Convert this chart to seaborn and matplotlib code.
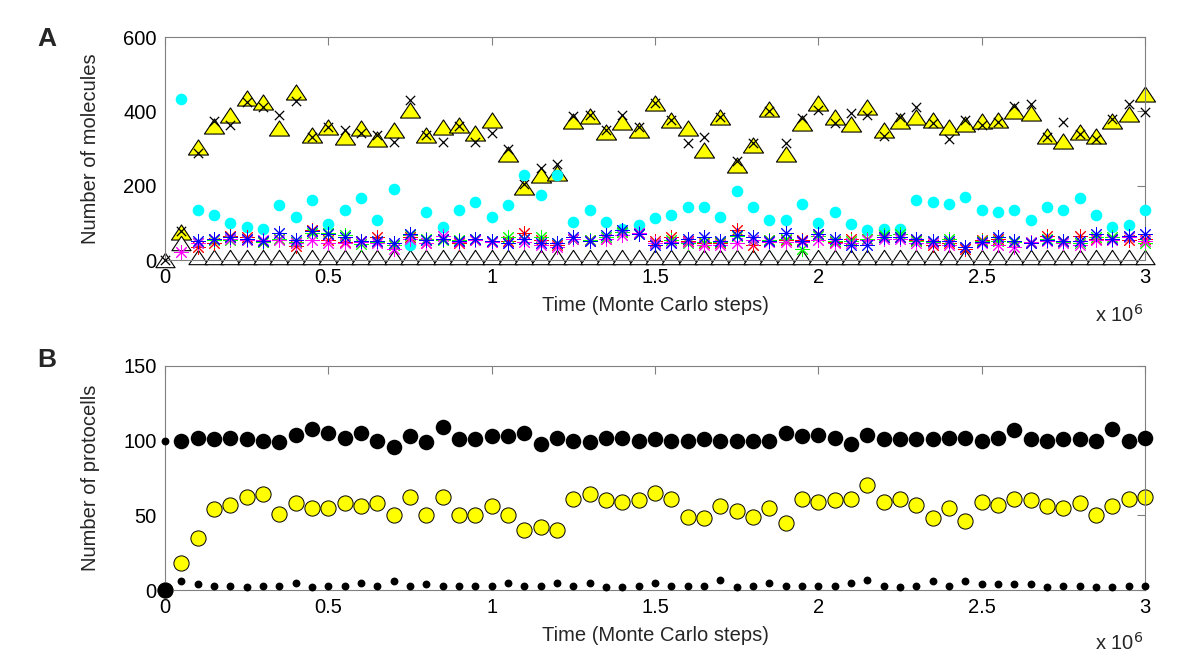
import numpy as np
import pandas as pd
import seaborn as sns
import matplotlib.pyplot as plt
from matplotlib.path import Path

# time, in units of 10^6 Monte Carlo steps
time = [0.00, 0.05, 0.10, 0.15, 0.20, 0.25, 0.30, 0.35, 0.40, 0.45,
        0.50, 0.55, 0.60, 0.65, 0.70, 0.75, 0.80, 0.85, 0.90, 0.95,
        1.00, 1.05, 1.10, 1.15, 1.20, 1.25, 1.30, 1.35, 1.40, 1.45,
        1.50, 1.55, 1.60, 1.65, 1.70, 1.75, 1.80, 1.85, 1.90, 1.95,
        2.00, 2.05, 2.10, 2.15, 2.20, 2.25, 2.30, 2.35, 2.40, 2.45,
        2.50, 2.55, 2.60, 2.65, 2.70, 2.75, 2.80, 2.85, 2.90, 2.95,
        3.00]

nan = np.nan

# panel A: number of molecules
mol_yellow = [nan, 76, 305, 360, 390, 435, 426, 354, 453, 336,
              359, 332, 356, 327, 350, 404, 336, 359, 363, 343,
              378, 285, 196, 229, 235, 375, 387, 345, 372, 351,
              423, 378, 356, 296, 384, 256, 309, 406, 285, 370,
              423, 384, 365, 411, 351, 375, 384, 378, 359, 365,
              375, 378, 402, 396, 334, 320, 345, 334, 375, 393,
              447]
mol_black = [0, 77, 287, 375, 363, 426, 413, 390, 429, 332,
             359, 350, 343, 336, 318, 430, 336, 318, 361, 318,
             341, 300, 206, 249, 258, 387, 390, 351, 390, 359,
             423, 378, 314, 332, 384, 267, 314, 402, 314, 381,
             404, 368, 395, 390, 334, 384, 413, 368, 327, 378,
             363, 372, 414, 421, 332, 372, 338, 327, 380, 420,
             399]
mol_cyan = [nan, 432, 135, 121, 99, 90, 85, 148, 117, 161,
            96, 135, 166, 108, 192, 40, 130, 90, 135, 157,
            117, 148, 228, 175, 228, 103, 135, 103, 85, 94,
            112, 121, 144, 144, 117, 187, 144, 108, 108, 152,
            99, 130, 96, 81, 85, 85, 161, 157, 152, 170,
            135, 130, 135, 108, 144, 135, 166, 121, 90, 94,
            135]
mol_blue = [nan, nan, 52, 56, 63, 58, 52, 72, 54, 78,
            70, 61, 52, 52, 45, 70, 54, 56, 52, 56,
            51, 47, 56, 47, 47, 61, 52, 67, 81, 70,
            40, 45, 56, 63, 52, 67, 61, 52, 74, 52,
            70, 56, 40, 40, 63, 63, 56, 52, 52, 36,
            49, 61, 52, 45, 54, 52, 52, 70, 58, 65,
            70]
mol_red = [nan, nan, 34, 45, 65, 63, 49, 58, 38, 81,
           54, 49, 52, 63, 40, 63, 45, 58, 45, 54,
           48, 52, 74, 54, 40, 58, 54, 56, 76, 74,
           52, 63, 52, 45, 45, 81, 40, 54, 54, 54,
           70, 49, 58, 56, 63, 63, 54, 40, 45, 31,
           54, 56, 49, 45, 65, 52, 65, 58, 56, 54,
           58]
mol_green = [nan, nan, 45, 54, 54, 54, 49, 56, 49, 72,
             72, 67, 43, 49, 40, 67, 58, 54, 54, 58,
             52, 63, 58, 63, 45, 58, 54, 63, 76, 70,
             47, 54, 45, 49, 49, 65, 54, 54, 58, 31,
             65, 52, 52, 58, 67, 70, 52, 49, 58, 36,
             52, 52, 49, 49, 56, 49, 45, 63, 61, 63,
             47]
mol_magenta = [nan, 22, 45, 58, 58, 54, 54, 54, 45, 54,
               45, 45, 49, 45, 31, 58, 45, 65, 49, 54,
               48, 45, 49, 40, 36, 56, 52, 58, 67, 74,
               47, 49, 49, 40, 40, 45, 54, 49, 49, 49,
               54, 45, 45, 54, 58, 58, 45, 45, 40, 36,
               45, 40, 34, 49, 52, 45, 40, 54, 54, 61,
               52]
mol_white = [0, 47, 8, 8, 8, 8, 8, 8, 8, 8,
             8, 8, 8, 8, 8, 8, 8, 8, 8, 8,
             8, 8, 8, 8, 8, 8, 8, 8, 8, 8,
             8, 8, 8, 8, 8, 8, 8, 8, 8, 8,
             8, 8, 8, 8, 8, 8, 8, 8, 8, 8,
             8, 8, 8, 8, 8, 8, 8, 8, 8, 8,
             8]

# panel B: number of protocells
cells_big = [0, 100, 102, 101, 102, 101, 100, 99, 104, 108,
             105, 102, 105, 100, 96, 103, 99, 109, 101, 101,
             103, 103, 105, 98, 102, 100, 99, 102, 102, 100,
             101, 100, 100, 101, 100, 100, 100, 100, 105, 103,
             104, 102, 98, 104, 101, 101, 101, 101, 102, 102,
             100, 102, 107, 101, 100, 101, 101, 100, 108, 100,
             102]
cells_yellow = [0, 18, 35, 54, 57, 62, 64, 51, 58, 55,
                55, 58, 56, 58, 50, 62, 50, 62, 50, 50,
                56, 50, 40, 42, 40, 61, 64, 60, 59, 60,
                65, 61, 49, 48, 56, 53, 49, 55, 45, 61,
                59, 60, 61, 70, 59, 61, 57, 48, 55, 46,
                59, 57, 61, 60, 56, 55, 58, 50, 56, 61,
                62]
cells_small = [100, 6, 4, 3, 3, 2, 3, 3, 5, 2,
               3, 3, 5, 3, 6, 3, 4, 3, 3, 3,
               3, 5, 3, 3, 5, 3, 5, 2, 2, 3,
               5, 3, 3, 3, 7, 2, 3, 5, 3, 3,
               3, 3, 5, 7, 3, 2, 3, 6, 3, 6,
               4, 4, 4, 4, 2, 3, 3, 2, 2, 3,
               3]

df_a = pd.DataFrame({"time": time, "yellow": mol_yellow, "black": mol_black,
                     "cyan": mol_cyan, "blue": mol_blue, "red": mol_red,
                     "green": mol_green, "magenta": mol_magenta, "white": mol_white})
df_b = pd.DataFrame({"time": time, "big": cells_big, "yellow": cells_yellow,
                     "small": cells_small})

sns.set_style("white")
plt.rcParams['font.family'] = ['Liberation Sans', 'DejaVu Sans']

# flat matlab-like triangle, closed path
tri = Path([(-1, -0.75), (1, -0.75), (0, 0.75), (-1, -0.75)],
           [Path.MOVETO, Path.LINETO, Path.LINETO, Path.CLOSEPOLY])
star = (8, 2, 0)
frame = "#808080"

fig = plt.figure(figsize=(12, 6.67), dpi=100)
ax1 = fig.add_axes([0.1375, 0.610, 0.8167, 0.3345])
ax2 = fig.add_axes([0.1375, 0.1154, 0.8167, 0.3359])

# panel A
sns.scatterplot(data=df_a, x="time", y="yellow", marker=tri, s=210, color="#ffff00",
                edgecolor="black", linewidth=0.8, clip_on=False, ax=ax1, zorder=2)
sns.scatterplot(data=df_a, x="time", y="white", marker=tri, s=190, color="white",
                edgecolor="black", linewidth=0.8, clip_on=False, ax=ax1, zorder=2)
sns.scatterplot(data=df_a, x="time", y="black", marker="x", s=45, color="black",
                linewidth=0.9, clip_on=False, ax=ax1, zorder=3)
sns.scatterplot(data=df_a, x="time", y="cyan", marker="o", s=70, color="#00ffff",
                linewidth=0, clip_on=False, ax=ax1, zorder=3)
for col, c in [("red", "#ff0000"), ("green", "#00ff00"), ("magenta", "#ff00ff"),
               ("blue", "#0000ff")]:
    sns.scatterplot(data=df_a, x="time", y=col, marker=star, s=95, color=c,
                    linewidth=0.7, clip_on=False, ax=ax1, zorder=3)

# panel B
sns.scatterplot(data=df_b, x="time", y="yellow", marker="o", s=120, color="#ffff00",
                edgecolor="black", linewidth=0.7, clip_on=False, ax=ax2, zorder=2)
sns.scatterplot(data=df_b, x="time", y="big", marker="o", s=125, color="black",
                linewidth=0, clip_on=False, ax=ax2, zorder=3)
sns.scatterplot(data=df_b, x="time", y="small", marker="o", s=32, color="black",
                linewidth=0, clip_on=False, ax=ax2, zorder=3)

xt = [0, 0.5, 1, 1.5, 2, 2.5, 3]
xtl = ["0", "0.5", "1", "1.5", "2", "2.5", "3"]
for ax, ylim, yt, ylab in [(ax1, (0, 600), [0, 200, 400, 600], "Number of molecules"),
                           (ax2, (0, 150), [0, 50, 100, 150], "Number of protocells")]:
    ax.set_xlim(0, 3)
    ax.set_ylim(*ylim)
    ax.set_xticks(xt)
    ax.set_xticklabels(xtl)
    ax.set_yticks(yt)
    ax.set_yticklabels([str(v) for v in yt])
    ax.tick_params(direction="in", length=6, width=0.8, color=frame, top=True,
                   right=True, labelsize=14.5, pad=6, labelcolor="black")
    for sp in ax.spines.values():
        sp.set_color(frame)
        sp.set_linewidth(0.8)
        sp.set_visible(True)
    ax.set_xlabel("Time (Monte Carlo steps)", fontsize=14.5, labelpad=6)
    ax.set_ylabel(ylab, fontsize=14.5)
    ax.yaxis.set_label_coords(-0.066, 0.5)

fig.text(1143 / 1200, 1 - 322 / 667, "x 10$^{6}$", fontsize=14.5, ha="right", va="baseline")
fig.text(1143 / 1200, 1 - 650 / 667, "x 10$^{6}$", fontsize=14.5, ha="right", va="baseline")
fig.text(47 / 1200, 1 - 39 / 667, "A", fontsize=19, fontweight="bold", ha="center", va="center")
fig.text(47 / 1200, 1 - 360 / 667, "B", fontsize=19, fontweight="bold", ha="center", va="center")

fig.savefig("out.png", dpi=100)
